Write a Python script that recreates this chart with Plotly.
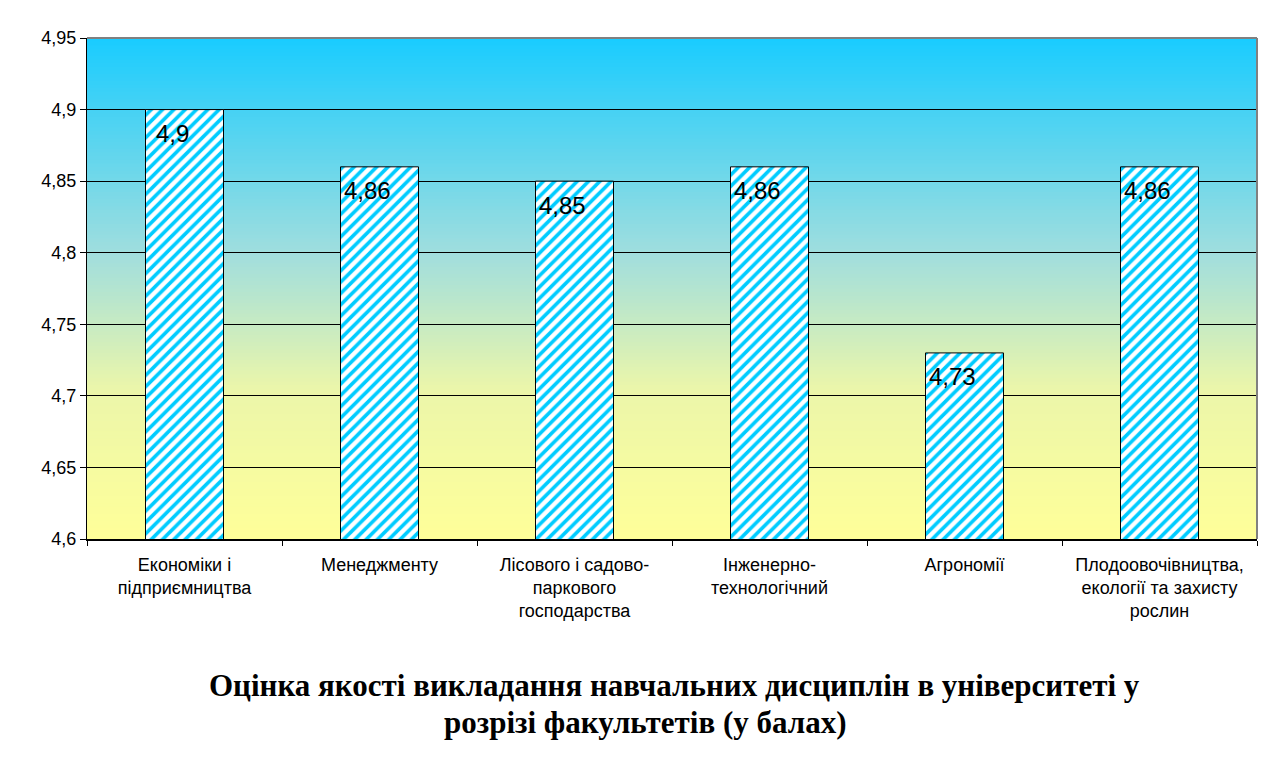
import plotly.graph_objects as go

categories = [
    "Економіки і<br>підприємництва",
    "Менеджменту",
    "Лісового і садово-<br>паркового<br>господарства",
    "Інженерно-<br>технологічний",
    "Агрономії",
    "Плодоовочівництва,<br>екології та захисту<br>рослин",
]
values = [4.9, 4.86, 4.85, 4.86, 4.73, 4.86]
value_labels = ["4,9", "4,86", "4,85", "4,86", "4,73", "4,86"]
y_ticks = [4.6, 4.65, 4.7, 4.75, 4.8, 4.85, 4.9, 4.95]
y_tick_labels = ["4,6", "4,65", "4,7", "4,75", "4,8", "4,85", "4,9", "4,95"]
title_line1 = "Оцінка якості викладання навчальних дисциплін в університеті у"
title_line2 = "розрізі факультетів (у балах)"

fig = go.Figure()
fig.add_trace(go.Bar(
    x=categories, y=values, width=0.4,
    marker=dict(
        color="white",
        line=dict(color="black", width=1),
        pattern=dict(shape="/", fgcolor="#00CCFF", bgcolor="white",
                     size=8, solidity=0.45, fillmode="replace"),
    ),
    hoverinfo="skip",
))

# value labels inside bars
for c, v, t in zip(categories, values, value_labels):
    fig.add_annotation(x=c, y=v, text=t, showarrow=False, xanchor="center",
                       yanchor="middle", xshift=-12, yshift=-24,
                       font=dict(family="Liberation Sans, Arial", size=24, color="black"))

# gradient background (style only)
stops = [(0.0, (255, 255, 153)), (0.3, (235, 246, 170)), (0.57, (160, 222, 222)),
         (1.0, (25, 204, 255))]
N = 140
def col(f):
    for (f0, c0), (f1, c1) in zip(stops[:-1], stops[1:]):
        if f0 <= f <= f1:
            t = (f - f0) / (f1 - f0)
            return "rgb(%d,%d,%d)" % tuple(round(a + (b - a) * t) for a, b in zip(c0, c1))
    return "rgb(%d,%d,%d)" % stops[-1][1]
for i in range(N):
    f = (i + 0.5) / N
    fig.add_shape(type="rect", xref="x domain", yref="y domain", x0=0, x1=1,
                  y0=i / N, y1=(i + 1) / N + 0.002, fillcolor=col(f),
                  line=dict(width=0), layer="below")

# gray top/right border
fig.add_shape(type="line", xref="x domain", yref="y domain", x0=0, x1=1, y0=1, y1=1,
              line=dict(color="#808080", width=2), layer="above")
fig.add_shape(type="line", xref="x domain", yref="y domain", x0=1, x1=1, y0=0, y1=1,
              line=dict(color="#808080", width=2), layer="above")

# title (two lines)
fig.add_annotation(xref="paper", yref="paper",
                   x=(674 - 87) / (1257 - 87), y=-(685 - 539) / (539 - 38),
                   text="<b>" + title_line1 + "</b>", showarrow=False,
                   xanchor="center", yanchor="middle",
                   font=dict(family="Liberation Serif, Times New Roman", size=31, color="black"))
fig.add_annotation(xref="paper", yref="paper",
                   x=(645 - 87) / (1257 - 87), y=-(722 - 539) / (539 - 38),
                   text="<b>" + title_line2 + "</b>", showarrow=False,
                   xanchor="center", yanchor="middle",
                   font=dict(family="Liberation Serif, Times New Roman", size=31, color="black"))

fig.update_layout(
    width=1284, height=766,
    margin=dict(l=87, r=27, t=38, b=227),
    paper_bgcolor="white", plot_bgcolor="rgba(0,0,0,0)",
    separators=", ",
    showlegend=False,
    font=dict(family="Liberation Sans, Arial", color="black"),
)
fig.update_yaxes(
    range=[4.6, 4.95], tickvals=y_ticks, ticktext=y_tick_labels,
    showgrid=True, gridcolor="black", gridwidth=1,
    showline=True, linecolor="black", linewidth=1,
    ticks="outside", ticklen=6, tickcolor="black",
    tickfont=dict(size=18, color="black"), zeroline=False,
)
fig.update_xaxes(
    showline=True, linecolor="black", linewidth=2,
    ticks="outside", ticklen=5, tickcolor="black", tickson="boundaries",
    ticklabelstandoff=8,
    tickfont=dict(size=18, color="black"), showgrid=False,
)

fig.write_html("out.html")
